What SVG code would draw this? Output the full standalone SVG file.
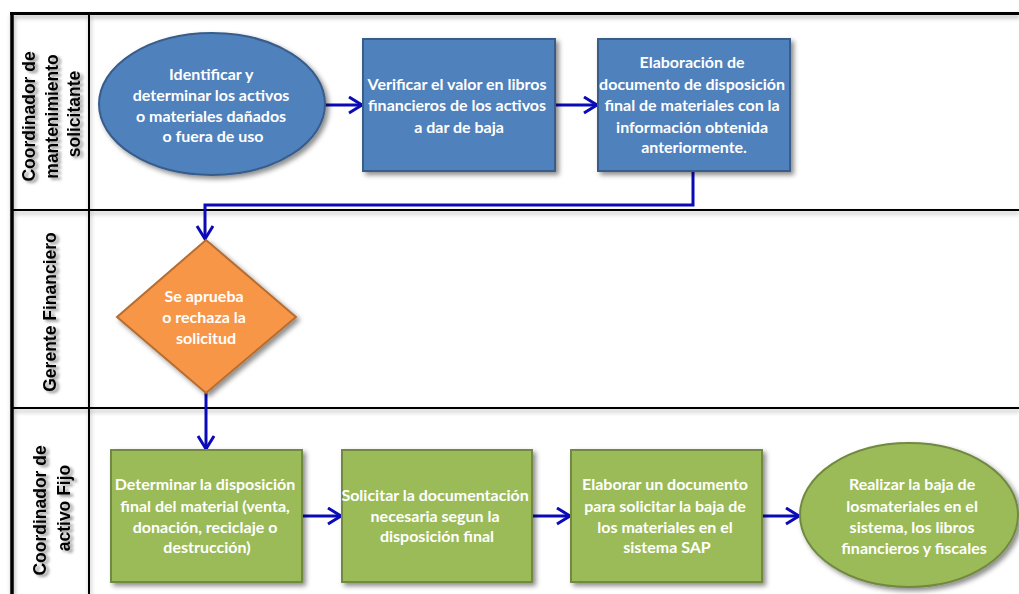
<svg xmlns="http://www.w3.org/2000/svg" width="1019" height="594" viewBox="0 0 1019 594">
  <style>
    .grid { stroke: #000; fill: none; }
    .lane { font-family: "Liberation Sans", Arial, sans-serif; font-weight: bold; font-size: 17.5px; fill: #000; text-anchor: middle; }
    .txt { font-family: Lato, "Liberation Sans", sans-serif; font-weight: bold; font-size: 16px; fill: #fff; text-anchor: middle; }
    .blue { fill: #4F81BD; stroke: #385D8A; stroke-width: 2; }
    .orange { fill: #F79646; stroke: #B66D31; stroke-width: 2; }
    .green { fill: #9BBB59; stroke: #71893F; stroke-width: 2; }
    .conn { stroke: #0A0AB8; stroke-width: 3; fill: none; }
  </style>
  <defs>
    <filter id="shadow" x="-10%" y="-10%" width="130%" height="130%">
      <feDropShadow dx="3" dy="3" stdDeviation="2.5" flood-color="#000" flood-opacity="0.45"/>
    </filter>
    <filter id="lineShadow" x="-5%" y="-5%" width="110%" height="110%">
      <feDropShadow dx="1" dy="3" stdDeviation="2" flood-color="#000" flood-opacity="0.3"/>
    </filter>
    <filter id="textShadow" x="-20%" y="-20%" width="140%" height="140%">
      <feDropShadow dx="3" dy="2" stdDeviation="1.5" flood-color="#000" flood-opacity="0.45"/>
    </filter>
    <marker id="arrow" markerUnits="userSpaceOnUse" markerWidth="20" markerHeight="20" refX="15" refY="9" orient="auto">
      <path d="M2,1 L15,9 L2,17" fill="none" stroke="#0A0AB8" stroke-width="3" stroke-linejoin="miter"/>
    </marker>
  </defs>

  <rect width="1019" height="594" fill="#fff"/>

  <!-- swimlane frame -->
  <g id="lanes" filter="url(#lineShadow)">
    <line class="grid" x1="10" y1="13.5" x2="1019" y2="13.5" stroke-width="3"/>
    <line class="grid" x1="12" y1="12" x2="12" y2="594" stroke-width="3.5"/>
    <line class="grid" x1="89" y1="13" x2="89" y2="594" stroke-width="2"/>
    <line class="grid" x1="12" y1="210" x2="1019" y2="210" stroke-width="2"/>
    <line class="grid" x1="12" y1="408" x2="1019" y2="408" stroke-width="2"/>
  </g>

  <!-- lane titles -->
  <g id="lane-labels" filter="url(#textShadow)">
    <text class="lane" transform="translate(50,114) rotate(-90)">
      <tspan x="0" y="-15">Coordinador de</tspan>
      <tspan x="0" y="8">mantenimiento</tspan>
      <tspan x="0" y="30">solicitante</tspan>
    </text>
    <text class="lane" transform="translate(50,312) rotate(-90)">
      <tspan x="0" y="6">Gerente  Financiero</tspan>
    </text>
    <text class="lane" transform="translate(52,508) rotate(-90)">
      <tspan x="0" y="-6">Coordinador de</tspan>
      <tspan x="0" y="18">activo Fijo</tspan>
    </text>
  </g>

  <!-- connectors -->
  <g id="connectors">
    <line class="conn" x1="325" y1="105" x2="362" y2="105" marker-end="url(#arrow)"/>
    <line class="conn" x1="555" y1="105" x2="597" y2="105" marker-end="url(#arrow)"/>
    <polyline class="conn" points="693,171 693,205 205,205 205,239" marker-end="url(#arrow)"/>
    <line class="conn" x1="206" y1="393" x2="206" y2="449" marker-end="url(#arrow)"/>
    <line class="conn" x1="302" y1="516" x2="341" y2="516" marker-end="url(#arrow)"/>
    <line class="conn" x1="532" y1="516" x2="570" y2="516" marker-end="url(#arrow)"/>
    <line class="conn" x1="762" y1="516" x2="799" y2="516" marker-end="url(#arrow)"/>
  </g>

  <!-- lane 1 -->
  <g id="identificar">
    <ellipse class="blue" cx="212" cy="104" rx="113" ry="71" filter="url(#shadow)"/>
    <text class="txt">
      <tspan x="213" y="80">Identificar y</tspan>
      <tspan x="213" y="101">determinar los activos</tspan>
      <tspan x="213" y="122">o materiales dañados</tspan>
      <tspan x="213" y="142">o fuera de uso</tspan>
    </text>
  </g>

  <g id="verificar">
    <rect class="blue" x="363" y="39" width="192" height="132" filter="url(#shadow)"/>
    <text class="txt">
      <tspan x="459" y="90">Verificar el valor en libros</tspan>
      <tspan x="459" y="111">financieros de los activos</tspan>
      <tspan x="459" y="133">a dar  de baja</tspan>
    </text>
  </g>

  <g id="elaboracion">
    <rect class="blue" x="598" y="39" width="192" height="132" filter="url(#shadow)"/>
    <text class="txt">
      <tspan x="694" y="68">Elaboración de</tspan>
      <tspan x="694" y="90">documento de disposición</tspan>
      <tspan x="694" y="111">final de materiales con la</tspan>
      <tspan x="694" y="133">información obtenida</tspan>
      <tspan x="694" y="153">anteriormente.</tspan>
    </text>
  </g>

  <!-- lane 2 -->
  <g id="aprobacion">
    <polygon class="orange" points="206,240 296,317 206,393 117,317" filter="url(#shadow)"/>
    <text class="txt">
      <tspan x="206" y="302">Se aprueba</tspan>
      <tspan x="206" y="323">o rechaza la</tspan>
      <tspan x="206" y="344">solicitud</tspan>
    </text>
  </g>

  <!-- lane 3 -->
  <g id="determinar">
    <rect class="green" x="111" y="450" width="191" height="132" filter="url(#shadow)"/>
    <text class="txt">
      <tspan x="207" y="490">Determinar la disposición</tspan>
      <tspan x="207" y="512">final del material (venta,</tspan>
      <tspan x="207" y="533">donación, reciclaje o</tspan>
      <tspan x="207" y="553">destrucción)</tspan>
    </text>
  </g>

  <g id="solicitar">
    <rect class="green" x="342" y="450" width="190" height="132" filter="url(#shadow)"/>
    <text class="txt">
      <tspan x="437" y="501">Solicitar la documentación</tspan>
      <tspan x="437" y="522">necesaria segun la</tspan>
      <tspan x="437" y="542">disposición final</tspan>
    </text>
  </g>

  <g id="elaborar">
    <rect class="green" x="571" y="450" width="191" height="132" filter="url(#shadow)"/>
    <text class="txt">
      <tspan x="667" y="490">Elaborar un documento</tspan>
      <tspan x="667" y="512">para solicitar la baja de</tspan>
      <tspan x="667" y="533">los materiales en el</tspan>
      <tspan x="667" y="553">sistema SAP</tspan>
    </text>
  </g>

  <g id="realizar">
    <ellipse class="green" cx="909" cy="515" rx="109" ry="72" filter="url(#shadow)"/>
    <text class="txt">
      <tspan x="914" y="490">Realizar la baja de</tspan>
      <tspan x="914" y="512">losmateriales en el</tspan>
      <tspan x="914" y="533">sistema, los libros</tspan>
      <tspan x="914" y="554">financieros y fiscales</tspan>
    </text>
  </g>
</svg>
